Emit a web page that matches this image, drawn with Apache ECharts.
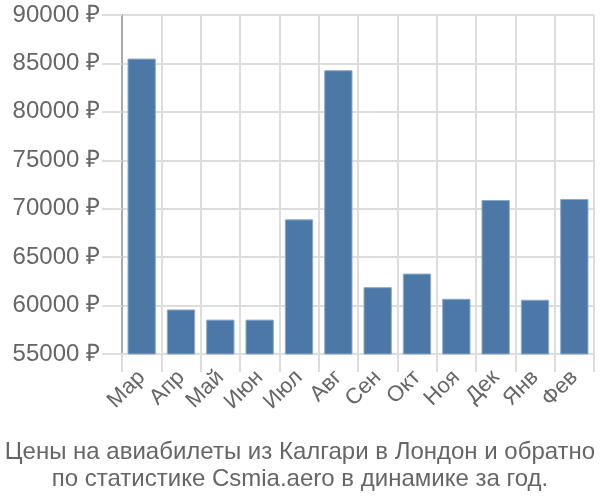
<!DOCTYPE html>
<html><head><meta charset="utf-8">
<script src="https://cdn.jsdelivr.net/npm/echarts@6/dist/echarts.min.js"></script>
<style>html,body{margin:0;padding:0;background:#fff}#c{width:600px;height:500px}</style>
</head><body><div id="c"></div>
<script>
const categories = ['Мар','Апр','Май','Июн','Июл','Авг','Сен','Окт','Ноя','Дек','Янв','Фев'];
const prices = [85500, 59600, 58550, 58550, 68900, 84300, 61900, 63300, 60700, 70900, 60600, 71000];
const yTicks = {min: 55000, max: 90000, step: 5000};
const currency = ' ₽';
const titleLines = ['Цены на авиабилеты из Калгари в Лондон и обратно','по статистике Csmia.aero в динамике за год.'];

const chart = echarts.init(document.getElementById('c'), null, {renderer:'canvas'});
const font = 'Liberation Sans, Arial, sans-serif';
chart.setOption({
  animation:false,
  title:{text:titleLines.join('\n'), left:'center', top:434, textStyle:{fontFamily:font,fontSize:24,fontWeight:'normal',color:'#666',lineHeight:27}},
  grid:{left:122,right:6,top:15,bottom:146,containLabel:false},
  xAxis:{type:'category',data:categories,boundaryGap:true,
    axisLine:{show:true,lineStyle:{color:'#ddd',width:2}},
    axisTick:{show:true,length:18,lineStyle:{color:'#ddd',width:2}},
    splitLine:{show:true,lineStyle:{color:'#ddd',width:2}},
    axisLabel:{rotate:45,fontFamily:font,fontSize:22,color:'#666',margin:20,interval:0}},
  yAxis:{type:'value',min:yTicks.min,max:yTicks.max,interval:yTicks.step,
    axisLine:{show:true,lineStyle:{color:'#aaa',width:2}},
    axisTick:{show:true,length:20,lineStyle:{color:'#ddd',width:2}},
    splitLine:{show:true,lineStyle:{color:'#ddd',width:2}},
    axisLabel:{formatter:function(v){return String(v)+currency;},fontFamily:font,fontSize:24,color:'#666',margin:22}},
  series:[{type:'bar',data:prices,barWidth:'72%',
    itemStyle:{color:'#4c78a8',borderColor:'#8fa9c9',borderWidth:1}}]
});
</script></body></html>
